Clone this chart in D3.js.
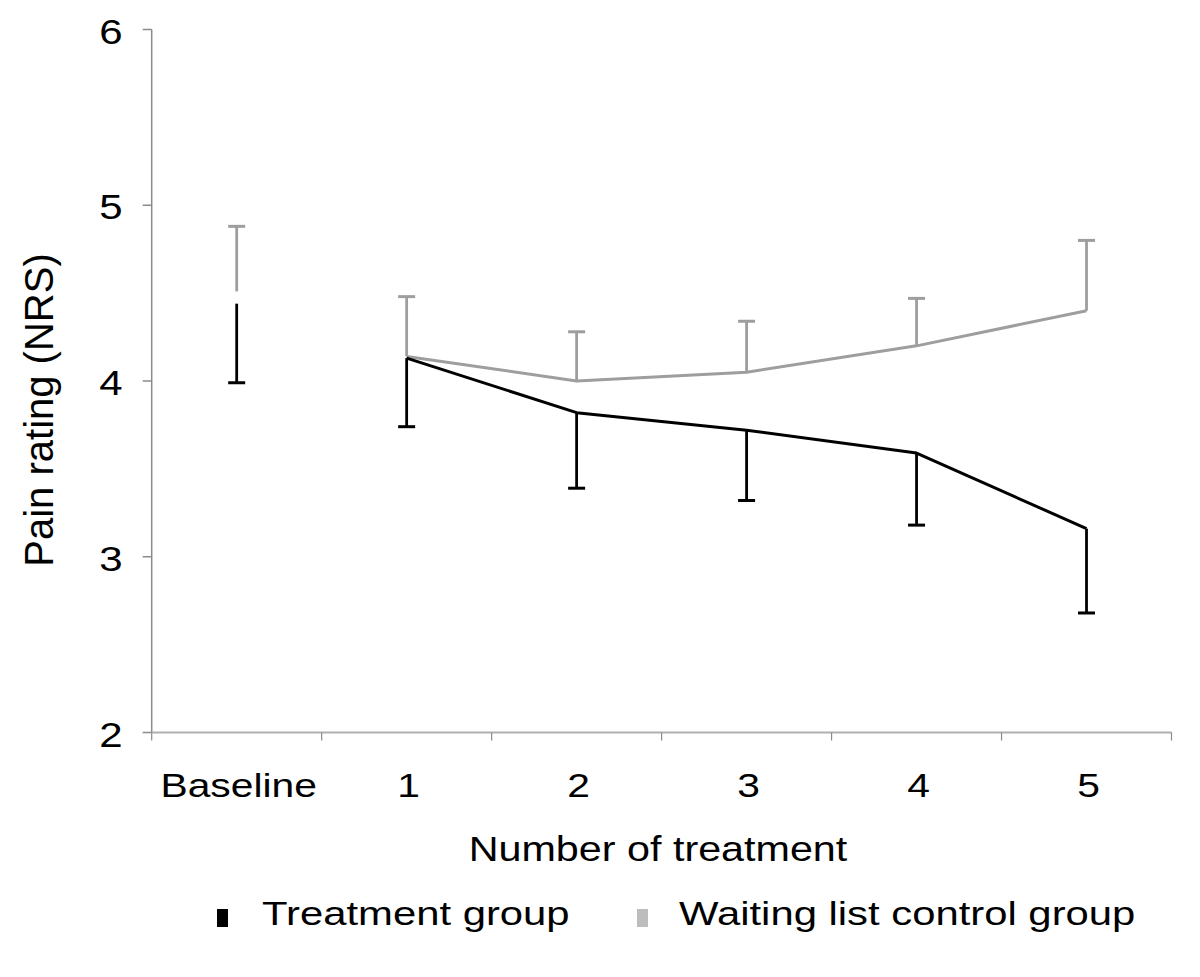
<!DOCTYPE html>
<html>
<head>
<meta charset="utf-8">
<script src="https://cdn.jsdelivr.net/npm/d3@7"></script>
<style>
  html, body { margin: 0; padding: 0; background: #fff; }
  svg { display: block; }
  text { font-family: "Liberation Sans", Arial, sans-serif; fill: #000; }
</style>
</head>
<body>
<svg id="chart" width="1200" height="977"></svg>
<script>
// ---- data ----
const categories = ["Baseline", "1", "2", "3", "4", "5"];
const treatmentMean = [4.44, 4.13, 3.82, 3.72, 3.59, 3.16];
const treatmentSD   = [0.45, 0.39, 0.43, 0.40, 0.41, 0.48];
const controlMean   = [4.51, 4.14, 4.00, 4.05, 4.20, 4.40];
const controlSD     = [0.37, 0.34, 0.28, 0.29, 0.27, 0.40];
const yTicks = [2, 3, 4, 5, 6];
const seriesNames = ["Treatment group", "Waiting list control group"];
const connectedFrom = 1; // the line starts at treatment 1 (baseline not joined)

// ---- layout ----
const svg = d3.select("#chart");
const pLeft = 151.7, pRight = 1171.5, pTop = 29.5, pBottom = 732.5;
const sx = 1.2; // horizontal stretch of the horizontal text in the reference
const fs = 34;

const x = d3.scaleBand().domain(categories).range([pLeft, pRight]).paddingInner(0).paddingOuter(0);
const y = d3.scaleLinear().domain([2, 6]).range([pBottom, pTop]);
const cx = c => x(c) + x.bandwidth() / 2;

const colors = { treat: "#000000", ctrl: "#9e9e9e" };

// ---- axes ----
svg.append("line")
  .attr("x1", pLeft).attr("x2", pLeft).attr("y1", y(6)).attr("y2", y(2))
  .attr("stroke", "#8a8a8a").attr("stroke-width", 1.5);
svg.selectAll(".ytick").data(yTicks).enter().append("line")
  .attr("x1", pLeft - 9).attr("x2", pLeft)
  .attr("y1", d => y(d)).attr("y2", d => y(d))
  .attr("stroke", "#8a8a8a").attr("stroke-width", 1.5);
svg.selectAll(".ylab").data(yTicks).enter().append("text")
  .attr("text-anchor", "end")
  .attr("font-size", fs + 1)
  .attr("transform", d => `translate(${pLeft - 29},${y(d) + 14}) scale(${sx},1)`)
  .text(d => d);

svg.append("line")
  .attr("x1", pLeft).attr("x2", pRight).attr("y1", pBottom).attr("y2", pBottom)
  .attr("stroke", "#b0b0b0").attr("stroke-width", 2);
const edges = categories.map(c => x(c)).concat([pRight]);
svg.selectAll(".xtick").data(edges).enter().append("line")
  .attr("x1", d => d).attr("x2", d => d)
  .attr("y1", pBottom).attr("y2", pBottom + 8)
  .attr("stroke", "#8a8a8a").attr("stroke-width", 1.2);
svg.selectAll(".xlab").data(categories).enter().append("text")
  .attr("text-anchor", "middle")
  .attr("font-size", fs)
  .attr("transform", d => `translate(${cx(d) + 2},${pBottom + 64}) scale(${sx},1)`)
  .text(d => d);

svg.append("text")
  .attr("text-anchor", "middle")
  .attr("font-size", fs + 1)
  .attr("transform", `translate(658,860.5) scale(${sx - 0.02},1)`)
  .text("Number of treatment");
svg.append("text")
  .attr("text-anchor", "middle")
  .attr("font-size", 40)
  .attr("transform", `translate(53,410) rotate(-90)`)
  .text("Pain rating (NRS)");

// ---- series ----
function drawSeries(mean, sd, color, dir) {
  const pts = categories.map((c, i) => ({ c, i, m: mean[i], s: sd[i] }));
  const g = svg.append("g");
  g.selectAll(".eb").data(pts).enter().append("line")
    .attr("x1", d => cx(d.c)).attr("x2", d => cx(d.c))
    .attr("y1", d => y(d.m)).attr("y2", d => y(d.m + dir * d.s))
    .attr("stroke", color).attr("stroke-width", 2.8);
  g.selectAll(".cap").data(pts).enter().append("line")
    .attr("x1", d => cx(d.c) - 8.5).attr("x2", d => cx(d.c) + 8.5)
    .attr("y1", d => y(d.m + dir * d.s)).attr("y2", d => y(d.m + dir * d.s))
    .attr("stroke", color).attr("stroke-width", 3);
  const line = d3.line()
    .defined(d => d.i >= connectedFrom)
    .x(d => cx(d.c)).y(d => y(d.m));
  g.append("path").datum(pts)
    .attr("d", line)
    .attr("fill", "none")
    .attr("stroke", color).attr("stroke-width", 3)
    .attr("stroke-linejoin", "round");
}
drawSeries(controlMean, controlSD, colors.ctrl, +1);
drawSeries(treatmentMean, treatmentSD, colors.treat, -1);

// ---- legend ----
const legend = [
  { name: seriesNames[0], color: "#000000", sq: 217, tx: 262 },
  { name: seriesNames[1], color: "#bdbdbd", sq: 637, tx: 679 }
];
const lg = svg.selectAll(".lg").data(legend).enter().append("g");
lg.append("rect")
  .attr("x", d => d.sq).attr("y", 909).attr("width", 11).attr("height", 18)
  .attr("fill", d => d.color);
lg.append("text")
  .attr("font-size", fs)
  .attr("transform", d => `translate(${d.tx},925) scale(${sx + 0.03},1)`)
  .text(d => d.name);
</script>
</body>
</html>
